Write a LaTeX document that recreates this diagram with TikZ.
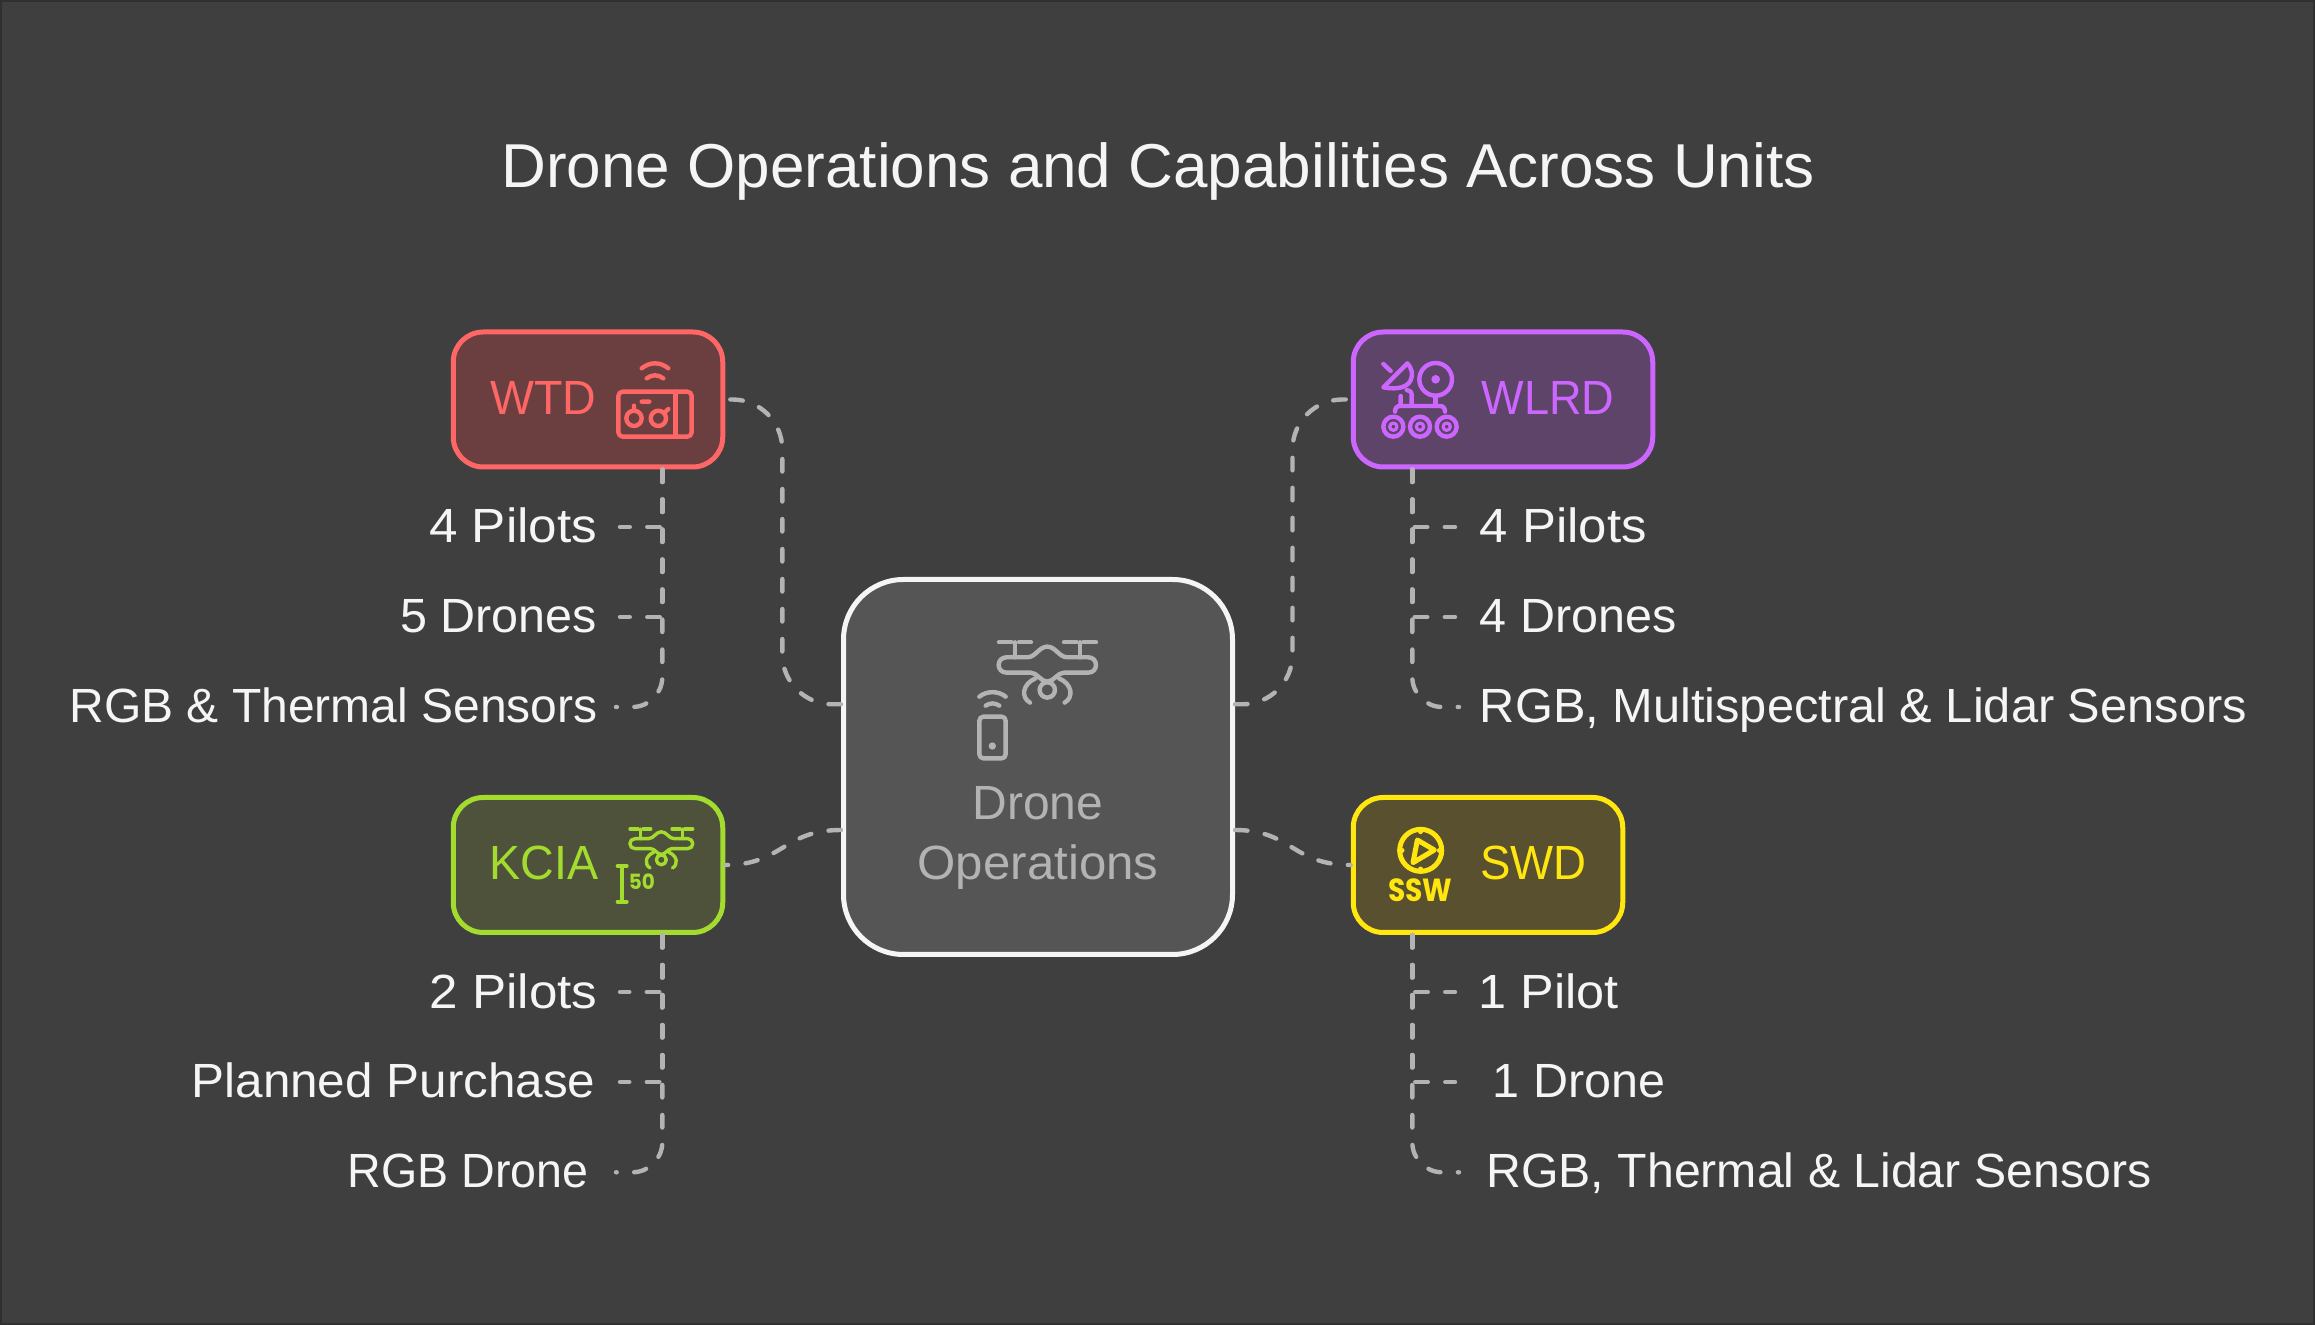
\documentclass[tikz,border=0pt]{standalone}
\usepackage{fontspec}
\setmainfont{Liberation Sans}
\newfontfamily\iconfont{Poppins}
\usetikzlibrary{calc}
\definecolor{bgc}{HTML}{3F3F3F}
\definecolor{edgec}{HTML}{303030}
\definecolor{linec}{HTML}{B3B3B3}
\definecolor{textc}{HTML}{F5F5F5}
\definecolor{redc}{HTML}{FF6666}
\definecolor{redf}{HTML}{6B3F3F}
\definecolor{purc}{HTML}{CC66FF}
\definecolor{purf}{HTML}{5E4468}
\definecolor{grnc}{HTML}{A3DC2E}
\definecolor{grnf}{HTML}{4E523A}
\definecolor{yelc}{HTML}{FFE60F}
\definecolor{yelf}{HTML}{58502F}
\definecolor{cenf}{HTML}{555555}
\tikzset{
 conn/.style={draw=linec,line width=2.2pt,line cap=round,dash pattern=on 6.25pt off 8.75pt},
 unitbox/.style={draw=#1,line width=2.5pt,rounded corners=15pt,inner sep=0pt,minimum height=67.5pt},
 item/.style={text=textc,inner sep=0pt,font=\fontsize{24}{28}\selectfont},
 boxlabel/.style={text=#1,inner sep=0pt,font=\fontsize{24}{28}\selectfont},
 ic/.style={draw=#1,line width=2.2pt,line cap=round,line join=round},
 small/.style={inner sep=0pt,text=#1},
}
\newcommand{\sx}[2]{\scalebox{#1}[1]{#2}}
\newcommand{\dronebody}{
 \draw (-145,0)--(-107,0) (-85,0)--(-49,0) (50,0)--(88,0) (108,0)--(146,0);
 \draw (-97,0)--(-97,45) (98,0)--(98,45);
 \draw (-122,45)--(-60,45) .. controls (-35,45) and (-25,13) .. (0,13) .. controls (25,13) and (35,45) .. (60,45)--(123,45) .. controls (137,45) and (146,55) .. (146,68) .. controls (146,81) and (137,91) .. (123,91)--(50,91) .. controls (30,91) and (20,118) .. (0,118) .. controls (-20,118) and (-30,91) .. (-50,91)--(-122,91) .. controls (-136,91) and (-146,81) .. (-146,68) .. controls (-146,55) and (-136,45) .. (-122,45)--cycle;
 \draw (0,143) circle[radius=23];
 \draw (-52,181) .. controls (-80,165) and (-75,125) .. (-35,108);
 \draw (52,181) .. controls (80,165) and (75,125) .. (35,108);
}
\begin{document}
\begin{tikzpicture}[x=0.5pt,y=-0.5pt]
\useasboundingbox (0,0) rectangle (2315,1325);
\fill[bgc] (0,0) rectangle (2315,1325);
\draw[edgec,line width=1pt] (1,1) rectangle (2314,1324);

\node[text=textc,inner sep=0pt,anchor=base,font=\fontsize{31}{35}\selectfont] (title) at (1158,188) {Drone Operations and Capabilities Across Units};

% boxes
\node[unitbox=redc,fill=redf,minimum width=134.75pt] (wtd) at (588,399.5) {};
\node[unitbox=purc,fill=purf,minimum width=149.75pt] (wlrd) at (1503,399.5) {};
\node[unitbox=grnc,fill=grnf,minimum width=134.75pt] (kcia) at (588,865) {};
\node[unitbox=yelc,fill=yelf,minimum width=134.75pt] (swd) at (1488,865) {};
\node[draw=textc,fill=cenf,line width=2.5pt,rounded corners=30pt,inner sep=0pt,minimum width=194.5pt,minimum height=187.5pt] (center) at (1038,767) {};

% box labels
\node[boxlabel=redc,anchor=base west] (wtdl) at (490,415) {\sx{.97}{WTD}};
\node[boxlabel=purc,anchor=base west] (wlrdl) at (1481,415) {\sx{.94}{WLRD}};
\node[boxlabel=grnc,anchor=base west] (kcial) at (489,880) {\sx{.97}{KCIA}};
\node[boxlabel=yelc,anchor=base west] (swdl) at (1480,880) {\sx{.95}{SWD}};
\node[text=linec,inner sep=0pt,anchor=base,font=\fontsize{24}{28}\selectfont] (cen1) at (1038,820) {Drone};
\node[text=linec,inner sep=0pt,anchor=base,font=\fontsize{24}{28}\selectfont] (cen2) at (1038,880) {\sx{1.025}{Operations}};

% items
\node[item,anchor=base east] (wtd1) at (597.5,543) {\sx{1.066}{4 Pilots}};
\node[item,anchor=base east] (wtd2) at (597.5,633) {\sx{1.01}{5 Drones}};
\node[item,anchor=base east] (wtd3) at (598,723) {RGB \& Thermal Sensors};
\node[item,anchor=base west] (wlrd1) at (1479.5,543) {\sx{1.06}{4 Pilots}};
\node[item,anchor=base west] (wlrd2) at (1479.5,633) {\sx{1.01}{4 Drones}};
\node[item,anchor=base west] (wlrd3) at (1479.5,723) {\sx{1.016}{RGB, Multispectral \& Lidar Sensors}};
\node[item,anchor=base east] (kcia1) at (598,1008) {\sx{1.066}{2 Pilots}};
\node[item,anchor=base east] (kcia2) at (596,1098) {\sx{1.03}{Planned Purchase}};
\node[item,anchor=base east] (kcia3) at (589,1188) {\sx{.97}{RGB Drone}};
\node[item,anchor=base west] (swd1) at (1478.5,1008) {\sx{1.05}{1 Pilot}};
\node[item,anchor=base west] (swd2) at (1492.5,1098) {\sx{1.01}{1 Drone}};
\node[item,anchor=base west] (swd3) at (1486,1188) {\sx{1.005}{RGB, Thermal \& Lidar Sensors}};

% connector anchors
\coordinate (lv) at (662.3,0);
\coordinate (rv) at (1412.3,0);
\coordinate (wtdA) at (620,527);
\coordinate (wtdB) at (620,617);
\coordinate (wtdC) at (616,707);
\coordinate (wlrdA) at (1455,527);
\coordinate (wlrdB) at (1455,617);
\coordinate (wlrdC) at (1459,707);
\coordinate (kciaA) at (620,992);
\coordinate (kciaB) at (620,1082);
\coordinate (kciaC) at (616,1172.3);
\coordinate (swdA) at (1455,992);
\coordinate (swdB) at (1455,1082);
\coordinate (swdC) at (1459,1172.3);
\coordinate (cl1) at (0,704.3);
\coordinate (cl2) at (0,830);
\coordinate (lmid) at (782.3,0);
\coordinate (rmid) at (1292.5,0);

% centre connectors
\draw[conn,rounded corners=25pt] (center.west |- cl1) -| (lmid |- wtd.east) -- (wtd.east);
\draw[conn,rounded corners=25pt] (center.east |- cl1) -| (rmid |- wlrd.west) -- (wlrd.west);
\draw[conn] (center.west |- cl2) .. controls (783,830) and (783,865) .. (kcia.east);
\draw[conn] (center.east |- cl2) .. controls (1292,830) and (1292,865) .. (swd.west);

% branches
\foreach \n/\v in {wtd/lv,wlrd/rv,kcia/lv,swd/rv}{
 \draw[conn] (\n.south -| \v) |- (\n A);
 \draw[conn] (\n.south -| \v) |- (\n B);
 \draw[conn,rounded corners=15pt] (\n.south -| \v) |- (\n C);
}

% WTD icon
\begin{scope}[shift={(430,310)},x=0.16667pt,y=-0.16667pt,ic=redc]
 \draw[rounded corners=2.2pt] (565,245) rectangle (785,380);
 \draw (737,245)--(737,380);
 \draw (612,325) circle[radius=23] (685,325) circle[radius=23];
 \draw (612,300)--(612,287) (635,275)--(658,275) (702,310)--(715,297);
 \draw (635,175) .. controls (660,155) and (690,155) .. (715,175);
 \draw (650,205) .. controls (665,193) and (685,193) .. (700,205);
\end{scope}

% WLRD icon
\begin{scope}[shift={(1330,310)},x=0.16667pt,y=-0.16667pt,ic=purc]
 \draw (190,350) circle[radius=30] (270,350) circle[radius=30] (350,350) circle[radius=30];
 \draw[line width=1.6pt] (190,350) circle[radius=11] (270,350) circle[radius=11] (350,350) circle[radius=11];
 \draw (195,305) .. controls (195,295) and (200,288) .. (210,288)--(330,288) .. controls (340,288) and (345,295) .. (345,305);
 \draw (212,285)--(212,258) (245,285)--(245,255) .. controls (245,245) and (238,240) .. (230,240);
 \draw (317,208) circle[radius=49];
 \fill[purc] (317,208) circle[radius=13];
 \draw (317,258)--(317,285);
 \draw (232,160) .. controls (258,185) and (255,250) .. (160,232)--cycle;
 \draw (160,162)--(182,183);
\end{scope}

% KCIA icon
\begin{scope}[shift={(430,780)},x=0.16667pt,y=-0.16667pt,ic=grnc,line width=2pt]
 \draw (575,258)--(575,365) (563,258)--(590,258) (563,365)--(590,365);
\end{scope}
\begin{scope}[shift={(661.3,829)},x=0.1077pt,y=-0.1077pt,ic=grnc,line width=1.7pt]
 \dronebody
\end{scope}
\node[small=grnc,anchor=base west,font=\iconfont\bfseries\fontsize{10.5}{12}\selectfont] (fifty) at (628.5,890) {\sx{.95}{50}};

% SWD icon
\begin{scope}[shift={(1330,780)},x=0.16667pt,y=-0.16667pt,ic=yelc,line width=2.5pt]
 \draw (272,211) circle[radius=63];
 \draw (272,148)--(272,155) (272,267)--(272,274) (209,211)--(216,211) (328,211)--(335,211);
 \draw (262,180)--(313,210)--(249,248)--cycle;
\end{scope}
\node[small=yelc,anchor=base,font=\iconfont\bfseries\fontsize{16}{18}\selectfont] (ssw) at (1420.3,901.7) {\sx{.88}{SSW}};

% centre icon
\begin{scope}[shift={(1047.3,642.3)},x=0.16667pt,y=-0.16667pt,ic=linec]
 \dronebody
\end{scope}
\begin{scope}[shift={(820,560)},x=0.16667pt,y=-0.16667pt,ic=linec]
 \draw[rounded corners=2pt] (478,470) rectangle (557,595);
 \fill[linec] (517,558) circle[radius=11];
 \draw (478,410) .. controls (500,392) and (535,392) .. (557,410);
 \draw (497,437) .. controls (510,428) and (525,428) .. (538,437);
\end{scope}
\end{tikzpicture}
\end{document}
